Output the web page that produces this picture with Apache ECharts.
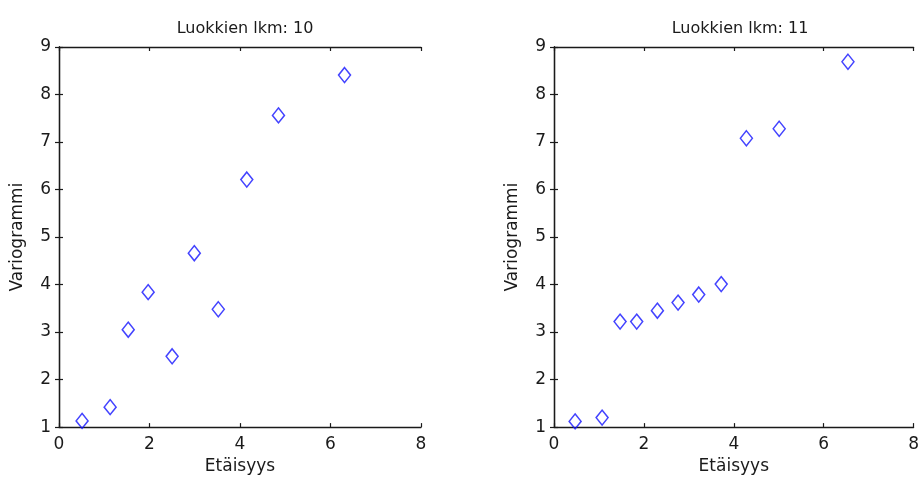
<!DOCTYPE html>
<html>
<head>
<meta charset="utf-8">
<script src="https://cdn.jsdelivr.net/npm/echarts@6/dist/echarts.min.js"></script>
<style>
  html, body { margin: 0; padding: 0; background: #fff; }
  #chart { width: 922px; height: 480px; }
</style>
</head>
<body>
<div id="chart"></div>
<script>
// Luokkien lkm: 10
const distLeft = [0.51, 1.13, 1.53, 1.97, 2.50, 2.99, 3.52, 4.15, 4.85, 6.31]
const varLeft = [1.13, 1.42, 3.05, 3.84, 2.49, 4.66, 3.48, 6.21, 7.56, 8.41]

// Luokkien lkm: 11
const distRight = [0.47, 1.07, 1.47, 1.84, 2.30, 2.76, 3.22, 3.72, 4.28, 5.01, 6.54]
const varRight = [1.12, 1.20, 3.22, 3.22, 3.45, 3.62, 3.79, 4.01, 7.08, 7.28, 8.69]

const titles = ['Luokkien lkm: 10', 'Luokkien lkm: 11']
const xName = 'Etäisyys'
const yName = 'Variogrammi'

const font = 'DejaVu Sans'
const ink = '#1a1a1a'
const markerColor = '#1414ff'

const grids = [
  { left: 59, right: 501, top: 47, bottom: 47 },
  { left: 554, right: 7, top: 47, bottom: 47 }
]

const line = { show: true, lineStyle: { color: ink, width: 1.3 } }
const tick = { show: true, inside: true, length: 4, lineStyle: { color: ink, width: 1.2 } }

const xAxes = []
const yAxes = []
grids.forEach((g, i) => {
  // bottom axis with labels
  xAxes.push({
    type: 'value', gridIndex: i, min: 0, max: 8, interval: 2,
    position: 'bottom',
    name: xName, nameLocation: 'middle', nameGap: 27,
    nameTextStyle: { fontFamily: font, fontSize: 17, color: ink },
    axisLine: line, axisTick: tick,
    axisLabel: { margin: 9, fontFamily: font, fontSize: 17, color: ink },
    splitLine: { show: false }
  })
  // top axis: ticks only
  xAxes.push({
    type: 'value', gridIndex: i, min: 0, max: 8, interval: 2,
    position: 'top',
    axisLine: line, axisTick: tick,
    axisLabel: { show: false }, splitLine: { show: false }
  })
  yAxes.push({
    type: 'value', gridIndex: i, min: 1, max: 9, interval: 1,
    position: 'left',
    name: yName, nameLocation: 'middle', nameGap: 33, nameRotate: 90,
    nameTextStyle: { fontFamily: font, fontSize: 17, color: ink },
    axisLine: line, axisTick: tick,
    axisLabel: { margin: 8, fontFamily: font, fontSize: 17, color: ink },
    splitLine: { show: false }
  })
  yAxes.push({
    type: 'value', gridIndex: i, min: 1, max: 9, interval: 1,
    position: 'right',
    axisLine: line, axisTick: tick,
    axisLabel: { show: false }, splitLine: { show: false }
  })
})

const scatter = (xs, ys, i) => ({
  type: 'scatter',
  xAxisIndex: i * 2,
  yAxisIndex: i * 2,
  symbol: 'diamond',
  symbolSize: [12, 15],
  itemStyle: { color: 'rgba(0,0,0,0)', borderColor: markerColor, borderWidth: 1.5 },
  data: xs.map((x, k) => [x, ys[k]])
})

const chart = echarts.init(document.getElementById('chart'))
chart.setOption({
  backgroundColor: '#fff',
  animation: false,
  title: titles.map((t, i) => ({
    text: t,
    left: i === 0 ? 240 : 735,
    top: 16,
    textAlign: 'center',
    textStyle: { fontFamily: font, fontSize: 16, fontWeight: 'normal', color: ink }
  })),
  grid: grids,
  xAxis: xAxes,
  yAxis: yAxes,
  series: [
    scatter(distLeft, varLeft, 0),
    scatter(distRight, varRight, 1)
  ]
})
</script>
</body>
</html>
